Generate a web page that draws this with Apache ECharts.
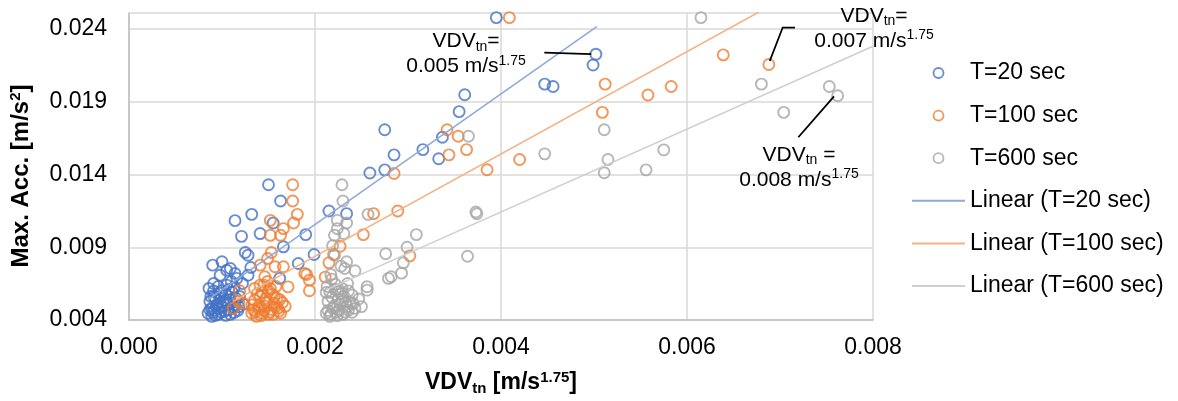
<!DOCTYPE html>
<html><head><meta charset="utf-8">
<script src="https://cdn.jsdelivr.net/npm/echarts@6/dist/echarts.min.js"></script>
<style>html,body{margin:0;padding:0;background:#fff}#c{width:1178px;height:401px}</style>
</head><body><div id="c"></div>
<script>
// ---------- data ----------
const seriesNames = ['T=20 sec', 'T=100 sec', 'T=600 sec'];
const trendNames = ['Linear (T=20 sec)', 'Linear (T=100 sec)', 'Linear (T=600 sec)'];

const t20 = [
  [0.00395,0.02478],[0.00502,0.02227],[0.00499,0.02153],[0.00447,0.02021],[0.00456,0.02005],
  [0.00361,0.01948],[0.00355,0.01832],[0.00275,0.01708],[0.00337,0.01656],[0.00316,0.01571],
  [0.00285,0.01535],[0.00333,0.01508],[0.00259,0.01410],[0.00275,0.01432],[0.00150,0.01330],
  [0.00163,0.01218],[0.00215,0.01149],[0.00234,0.01131],[0.00132,0.01126],[0.00114,0.01083],
  [0.00155,0.01067],[0.00141,0.00994],[0.00121,0.00975],[0.00190,0.00987],[0.00166,0.00903],
  [0.00125,0.00864],[0.00128,0.00845],[0.00199,0.00850],[0.00182,0.00788],[0.00090,0.00777],
  [0.00100,0.00800],[0.00131,0.00761],[0.00109,0.00754],[0.00114,0.00720],[0.00098,0.00708],
  [0.00105,0.00742],[0.00091,0.00651],[0.00105,0.00640],[0.00128,0.00708],[0.00091,0.00599],
  [0.00098,0.00549],[0.00089,0.00480],[0.00162,0.00686],
  [0.00085,0.00446],[0.00089,0.00425],[0.00092,0.00466],[0.00096,0.00439],[0.00100,0.00494],
  [0.00103,0.00460],[0.00106,0.00515],[0.00109,0.00439],[0.00112,0.00487],[0.00115,0.00549],
  [0.00087,0.00528],[0.00091,0.00562],[0.00098,0.00583],[0.00104,0.00576],[0.00111,0.00590],
  [0.00119,0.00562],[0.00095,0.00508],[0.00102,0.00535],[0.00117,0.00466],[0.00088,0.00562],
  [0.00123,0.00508],[0.00086,0.00617],[0.00110,0.00665],[0.00116,0.00686],[0.00122,0.00651],
  [0.00087,0.00470],[0.00090,0.00452],[0.00093,0.00432],[0.00094,0.00500],[0.00097,0.00478],
  [0.00099,0.00455],[0.00101,0.00520],[0.00104,0.00432],[0.00107,0.00470],[0.00108,0.00540],
  [0.00113,0.00452],[0.00114,0.00505],[0.00118,0.00490],[0.00093,0.00545],[0.00100,0.00600],
  [0.00107,0.00610],[0.00096,0.00630],[0.00113,0.00625]
];

const t100 = [
  [0.00409,0.02478],[0.00639,0.02222],[0.00688,0.02156],[0.00512,0.02021],[0.00558,0.01946],
  [0.00583,0.02005],[0.00509,0.01827],[0.00354,0.01663],[0.00342,0.01708],[0.00363,0.01571],
  [0.00344,0.01535],[0.00420,0.01503],[0.00385,0.01433],[0.00285,0.01407],[0.00176,0.01330],
  [0.00176,0.01218],[0.00181,0.01126],[0.00177,0.01067],[0.00152,0.01085],[0.00166,0.01028],
  [0.00152,0.00982],[0.00163,0.00982],[0.00263,0.01131],[0.00289,0.01149],[0.00252,0.00987],
  [0.00227,0.00907],[0.00302,0.00841],[0.00220,0.00850],[0.00215,0.00793],[0.00191,0.00713],
  [0.00194,0.00674],[0.00211,0.00695],[0.00194,0.00601],[0.00153,0.00864],[0.00141,0.00777],
  [0.00149,0.00823],[0.00157,0.00766],[0.00166,0.00766],[0.00189,0.00720],[0.00146,0.00697],
  [0.00141,0.00640],[0.00152,0.00617],[0.00159,0.00549],[0.00132,0.00503],[0.00119,0.00601],
  [0.00118,0.00526],[0.00112,0.00480],[0.00123,0.00514],[0.00171,0.00628],
  [0.00132,0.00446],[0.00137,0.00425],[0.00139,0.00480],[0.00143,0.00446],[0.00146,0.00494],
  [0.00150,0.00439],[0.00153,0.00473],[0.00156,0.00515],[0.00135,0.00535],[0.00141,0.00562],
  [0.00147,0.00549],[0.00154,0.00576],[0.00160,0.00480],[0.00163,0.00446],[0.00168,0.00494],
  [0.00143,0.00590],[0.00149,0.00665],[0.00158,0.00631],[0.00135,0.00617],
  [0.00134,0.00470],[0.00136,0.00455],[0.00140,0.00500],[0.00142,0.00430],[0.00145,0.00465],
  [0.00148,0.00520],[0.00151,0.00455],[0.00155,0.00440],[0.00157,0.00490],[0.00161,0.00460],
  [0.00165,0.00520],[0.00138,0.00580],[0.00150,0.00600],[0.00156,0.00560],[0.00162,0.00540],
  [0.00145,0.00640]
];

const t600 = [
  [0.00615,0.02478],[0.00680,0.02021],[0.00753,0.02005],[0.00762,0.01941],[0.00704,0.01827],
  [0.00365,0.01663],[0.00511,0.01708],[0.00447,0.01542],[0.00515,0.01503],[0.00511,0.01412],
  [0.00575,0.01569],[0.00556,0.01432],[0.00373,0.01142],[0.00374,0.01130],[0.00364,0.00838],
  [0.00229,0.01330],[0.00230,0.01218],[0.00224,0.01085],[0.00234,0.01067],[0.00257,0.01126],
  [0.00224,0.01028],[0.00221,0.00982],[0.00231,0.00994],[0.00309,0.00987],[0.00299,0.00900],
  [0.00276,0.00855],[0.00221,0.00845],[0.00295,0.00793],[0.00228,0.00770],[0.00243,0.00738],
  [0.00232,0.00754],[0.00279,0.00686],[0.00282,0.00697],[0.00293,0.00722],[0.00218,0.00681],
  [0.00235,0.00651],[0.00256,0.00629],[0.00256,0.00605],[0.00212,0.00590],[0.00225,0.00595],
  [0.00240,0.00571],[0.00247,0.00544],[0.00241,0.00514],[0.00250,0.00492],[0.00236,0.00468],
  [0.00234,0.00800],
  [0.00212,0.00446],[0.00216,0.00425],[0.00219,0.00480],[0.00223,0.00453],[0.00227,0.00508],
  [0.00230,0.00439],[0.00214,0.00528],[0.00218,0.00556],[0.00225,0.00542],[0.00231,0.00562],
  [0.00213,0.00631],[0.00222,0.00645],[0.00217,0.00713],[0.00229,0.00617],[0.00233,0.00522],
  [0.00240,0.00453],[0.00219,0.00911],
  [0.00214,0.00465],[0.00217,0.00440],[0.00221,0.00500],[0.00224,0.00430],[0.00226,0.00470],
  [0.00229,0.00530],[0.00232,0.00455],[0.00235,0.00490],[0.00238,0.00520],[0.00216,0.00590],
  [0.00222,0.00610],[0.00228,0.00580],[0.00236,0.00600],[0.00243,0.00480]
];

// trend line end points
const trend20 = [[0.00085,0.00540],[0.00503,0.02416]];
const trend100 = [[0.00112,0.00528],[0.00688,0.02554]];
const trend600 = [[0.00212,0.00607],[0.00800,0.02282]];

// axis ranges / ticks
const xRange = [0, 0.008, 0.002];
const yRange = [0.004, 0.0251, 0.005];

// annotation texts
const annoValues = ['0.005', '0.007', '0.008'];
const annoEq = ['=', '=', ' ='];

// ---------- chart ----------
const FONT = '"Liberation Sans", Arial, Helvetica, sans-serif';
const colors = ['#4472C4', '#ED7D31', '#A5A5A5'];
const trendColors = ['#8EA9DB', '#F4B183', '#CFCFCF'];

const chart = echarts.init(document.getElementById('c'), null, {renderer: 'canvas'});

const scatter = [t20, t100, t600].map((d, i) => ({
  name: seriesNames[i], type: 'scatter', data: d,
  symbol: 'circle', symbolSize: 11,
  itemStyle: {color: 'rgba(0,0,0,0)', borderColor: colors[i], borderWidth: 1.9},
  emphasis: {disabled: true}, z: 3
}));
const trends = [trend20, trend100, trend600].map((d, i) => ({
  name: trendNames[i], type: 'line', data: d,
  symbol: 'none', showSymbol: false, clip: true,
  lineStyle: {color: trendColors[i], width: 1.6},
  itemStyle: {color: trendColors[i]},
  emphasis: {disabled: true}, z: 4
}));

const legendData = seriesNames.map((n, i) => ({
  name: n, icon: 'circle',
  itemStyle: {color: 'rgba(0,0,0,0)', borderColor: colors[i], borderWidth: 1.8}
})).concat(trendNames.map((n, i) => ({
  name: n, icon: 'path://M0,0L53,0L53,2L0,2Z',
  itemStyle: {color: trendColors[i], borderWidth: 0}
})));

const option = {
  animation: false,
  backgroundColor: '#fff',
  grid: {left: 129, top: 13, right: 305, bottom: 79, containLabel: false},
  legend: {
    orient: 'vertical', left: 912, top: 61.5, padding: 0, itemGap: 19.6,
    itemWidth: 53, itemHeight: 10, symbolKeepAspect: true,
    textStyle: {fontFamily: FONT, fontSize: 23, color: '#000'},
    data: legendData, selectedMode: false
  },
  xAxis: {
    type: 'value', min: xRange[0], max: xRange[1], interval: xRange[2],
    axisLine: {show: true, lineStyle: {color: '#BFBFBF', width: 1.5}},
    axisTick: {show: false},
    splitLine: {show: true, lineStyle: {color: '#D9D9D9', width: 1.5}},
    axisLabel: {fontFamily: FONT, fontSize: 23, color: '#000', margin: 16,
      formatter: v => v.toFixed(3)},
    name: '{b|VDV}{sub|tn}{b| [m/s}{sup|1.75}{b|]}',
    nameLocation: 'middle', nameGap: 50,
    nameTextStyle: {
      rich: {
        b: {fontFamily: FONT, fontSize: 23, fontWeight: 'bold', color: '#000', lineHeight: 26},
        sub: {fontFamily: FONT, fontSize: 15, fontWeight: 'bold', color: '#000', lineHeight: 26, verticalAlign: 'bottom'},
        sup: {fontFamily: FONT, fontSize: 15, fontWeight: 'bold', color: '#000', lineHeight: 15, verticalAlign: 'top'}
      }
    }
  },
  yAxis: {
    type: 'value', min: yRange[0], max: yRange[1], interval: yRange[2],
    axisLine: {show: true, lineStyle: {color: '#BFBFBF', width: 1.5}},
    axisTick: {show: false},
    splitLine: {show: true, lineStyle: {color: '#D9D9D9', width: 1.5}},
    axisLabel: {fontFamily: FONT, fontSize: 23, color: '#000', margin: 22,
      showMaxLabel: false, formatter: v => v.toFixed(3)},
    name: '{b|Max. Acc. [m/s}{sup|2}{b|]}',
    nameLocation: 'middle', nameGap: 94,
    nameTextStyle: {
      padding: [0, 19, 0, 0],
      rich: {
        b: {fontFamily: FONT, fontSize: 24, fontWeight: 'bold', color: '#000', lineHeight: 27},
        sup: {fontFamily: FONT, fontSize: 15, fontWeight: 'bold', color: '#000', lineHeight: 15, verticalAlign: 'top'}
      }
    }
  },
  series: scatter.concat(trends)
};
chart.setOption(option);

// annotations anchored in data coordinates
const annoAnchors = [
  {text: [0.003624, 0.022280], line: [[0.004466, 0.02238], [0.00497, 0.02227]]},
  {text: [0.008011, 0.024050], line: [[0.00689, 0.02180], [0.007029, 0.02410], [0.007161, 0.02410]]},
  {text: [0.007204, 0.01450], line: [[0.007581, 0.01937], [0.007197, 0.01656]]}
];
const toPx = p => chart.convertToPixel({gridIndex: 0}, p);
const annoRich = {
  n: {fontFamily: FONT, fontSize: 21, color: '#000', lineHeight: 25},
  s: {fontFamily: FONT, fontSize: 14, color: '#000', lineHeight: 25, verticalAlign: 'bottom'},
  p: {fontFamily: FONT, fontSize: 14, color: '#000', lineHeight: 14, verticalAlign: 'top'}
};
const graphics = [];
annoAnchors.forEach((a, i) => {
  graphics.push({
    type: 'polyline', silent: true, z: 10,
    shape: {points: a.line.map(toPx)},
    style: {stroke: '#000', lineWidth: 1.8, fill: null}
  });
  const c = toPx(a.text);
  graphics.push({
    type: 'text', silent: true, z: 10, x: c[0], y: c[1],
    style: {
      text: '{n|VDV}{s|tn}{n|' + annoEq[i] + '}\n{n|' + annoValues[i] + ' m/s}{p|1.75}',
      rich: annoRich, align: 'center', verticalAlign: 'middle', lineHeight: 26
    }
  });
});
chart.setOption({graphic: graphics});
</script>
</body></html>
